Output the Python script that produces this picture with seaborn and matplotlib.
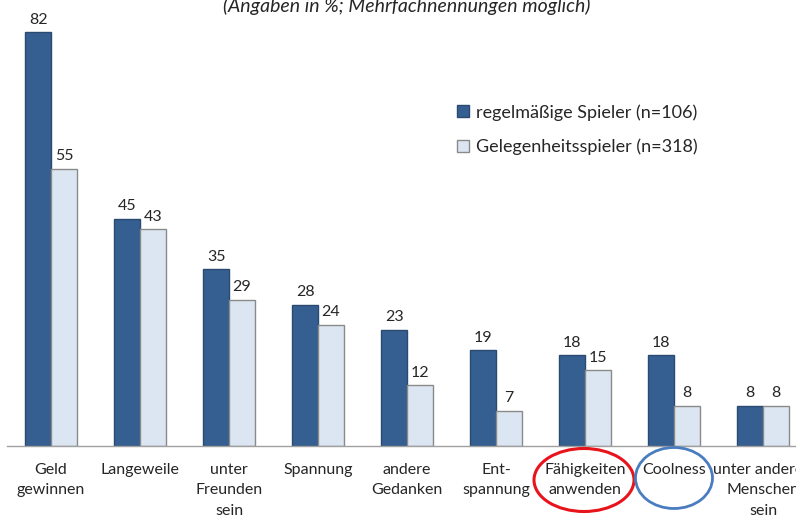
import matplotlib
matplotlib.use("Agg")
import matplotlib.pyplot as plt
from matplotlib.patches import Ellipse, Patch
import pandas as pd
import seaborn as sns

# Data
categories = [
    "Geld\ngewinnen", "Langeweile", "unter\nFreunden\nsein", "Spannung",
    "andere\nGedanken", "Ent-\nspannung", "Fähigkeiten\nanwenden", "Coolness",
    "unter anderen\nMenschen\nsein",
]
regular = [82, 45, 35, 28, 23, 19, 18, 18, 8]
occasional = [55, 43, 29, 24, 12, 7, 15, 8, 8]
series_names = ["regelmäßige Spieler (n=106)", "Gelegenheitsspieler (n=318)"]

df = pd.DataFrame({
    "Motiv": categories * 2,
    "Anteil": regular + occasional,
    "Gruppe": [series_names[0]] * len(categories) + [series_names[1]] * len(categories),
})

sns.set_style("white")
plt.rcParams["font.family"] = ["Lato", "DejaVu Sans"]

dark = "#365f91"
light = "#dce6f2"
text_col = "#262626"

fig = plt.figure(figsize=(7.96, 5.18), dpi=100)
ax = fig.add_axes([6.5 / 796, 72 / 518, 9 * 89 / 796, 454 / 518])

sns.barplot(data=df, x="Motiv", y="Anteil", hue="Gruppe", order=categories,
            hue_order=series_names, palette=[dark, light], width=0.58,
            saturation=1, legend=False, ax=ax)

n = len(categories)
for i, p in enumerate(ax.patches[:2 * n]):
    if i < n:
        p.set_edgecolor("#2a4a70")
    else:
        p.set_edgecolor("#8a8a8a")
    p.set_linewidth(1.0)

for cont in ax.containers:
    ax.bar_label(cont, padding=4, fontsize=11.5, color=text_col)

ax.set_xlim(-0.5, n - 0.5)
ax.set_ylim(0, 90)
ax.set_xlabel("")
ax.set_ylabel("")
ax.set_yticks([])
ax.tick_params(axis="x", length=0, pad=12, labelsize=11.5, labelcolor=text_col)
for lab in ax.get_xticklabels():
    lab.set_linespacing(1.6)
for side in ["top", "right", "left"]:
    ax.spines[side].set_visible(False)
ax.spines["bottom"].set_color("#a0a0a0")
ax.spines["bottom"].set_linewidth(1.0)

handles = [Patch(facecolor=dark, edgecolor="#2a4a70"),
           Patch(facecolor=light, edgecolor="#8a8a8a")]
fig.legend(handles, series_names, loc="upper left",
           bbox_to_anchor=(441 / 796, 1 - 88 / 518), frameon=False,
           fontsize=13, handlelength=0.65, handleheight=0.65,
           handletextpad=0.4, labelspacing=1.0, labelcolor=text_col)

fig.text(407 / 796, 1 - 6 / 518, "(Angaben in %; Mehrfachnennungen möglich)",
         ha="center", va="center", style="italic", fontsize=14, color=text_col)

# highlight circles around two categories
fig.add_artist(Ellipse((584 / 796, 1 - 480 / 518), 100 / 796, 63 / 518,
                       transform=fig.transFigure, fill=False,
                       edgecolor="#e8141c", linewidth=2.2))
fig.add_artist(Ellipse((674 / 796, 1 - 478 / 518), 77 / 796, 61 / 518,
                       transform=fig.transFigure, fill=False,
                       edgecolor="#4a7cc0", linewidth=2.0))

fig.savefig("out.png", dpi=100)
